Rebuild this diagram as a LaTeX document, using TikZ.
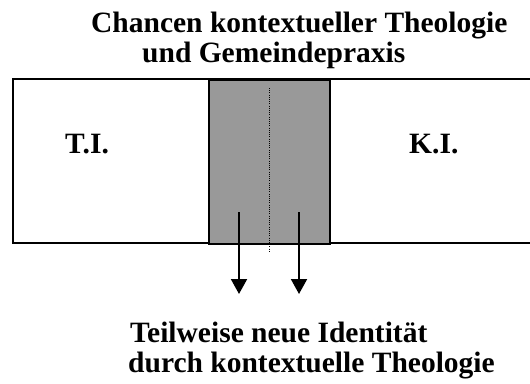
\documentclass[tikz,border=0pt]{standalone}
\usepackage{fontspec}
\setmainfont{Liberation Serif}
\usetikzlibrary{arrows.meta}
\definecolor{boxgray}{RGB}{153,153,153}
\tikzset{
  lbl/.style={anchor=base west, inner sep=0pt, font=\fontsize{29.5}{32}\selectfont\bfseries},
  frame/.style={line width=1.6pt, draw=black},
  midbox/.style={draw=black, line width=2pt, fill=boxgray, inner sep=0pt, anchor=north west},
  downarrow/.style={line width=2pt, -{Triangle[width=16pt,length=15pt]}},
}
\begin{document}
\begin{tikzpicture}[x=1pt,y=-1pt]
\useasboundingbox (0,0) rectangle (530,383);
% outer frame (right side runs off the picture)
\coordinate (ftr) at (532,79);
\coordinate (ftl) at (13,79);
\coordinate (fbl) at (13,243);
\coordinate (fbr) at (532,243);
\draw[frame] (ftr) -- (ftl) -- (fbl) -- (fbr);
% grey middle box
\node[midbox, minimum width=121pt, minimum height=164pt] (mid) at (208,79) {};
% dotted divider
\coordinate (dtop) at (269,88);
\coordinate (dbot) at (269,253);
\draw[line width=1pt, dash pattern=on 1pt off 1.2pt] (dtop) -- (dbot);
% arrows
\coordinate (a1s) at (239,212);
\coordinate (a1e) at (239,294);
\coordinate (a2s) at (299,212);
\coordinate (a2e) at (299,294);
\draw[downarrow] (a1s) -- (a1e);
\draw[downarrow] (a2s) -- (a2e);
% texts
\node[lbl] (t1) at (91,32) {Chancen kontextueller Theologie};
\node[lbl] (t2) at (142,62) {und Gemeindepraxis};
\node[lbl] (ti) at (65,153) {T.I.};
\node[lbl] (ki) at (409,153) {K.I.};
\node[lbl] (b1) at (130,342) {Teilweise neue Identität};
\node[lbl] (b2) at (128,372) {durch kontextuelle Theologie};
\end{tikzpicture}
\end{document}
